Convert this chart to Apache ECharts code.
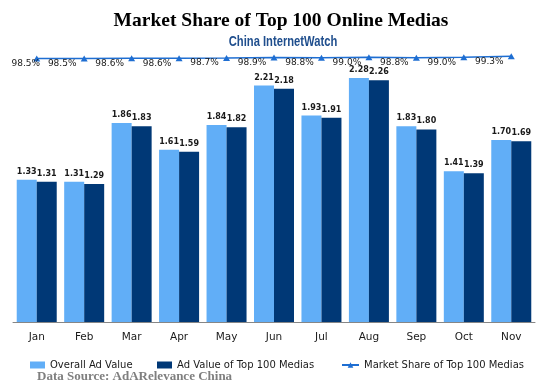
<!DOCTYPE html>
<html>
<head>
<meta charset="utf-8">
<script src="https://cdn.jsdelivr.net/npm/echarts@6/dist/echarts.min.js"></script>
<style>html,body{margin:0;padding:0;background:#fff;}#c{width:543px;height:387px;}</style>
</head>
<body>
<div id="c"></div>
<script>
var months = ['Jan','Feb','Mar','Apr','May','Jun','Jul','Aug','Sep','Oct','Nov'];
var overallAdValue = [1.33,1.31,1.86,1.61,1.84,2.21,1.93,2.28,1.83,1.41,1.70];
var top100AdValue = [1.31,1.29,1.83,1.59,1.82,2.18,1.91,2.26,1.80,1.39,1.69];
var top100Share = [98.5,98.5,98.6,98.6,98.7,98.9,98.8,99.0,98.8,99.0,99.3];

var chart = echarts.init(document.getElementById('c'));
var lightC = '#61AEF7', darkC = '#003876', lineC = '#1E6ED2';
var legendText = {fontFamily:'DejaVu Sans', fontSize:10, color:'#1a1a1a'};
var barLabel = {show:true, position:'top', distance:4, fontFamily:'DejaVu Sans', fontWeight:'bold', fontSize:8, color:'#1a1a1a', formatter:function(p){return p.value.toFixed(2);}};

chart.setOption({
  animation:false,
  backgroundColor:'#fff',
  title:[
    {text:'Market Share of Top 100 Online Medias', left:276, top:6, textAlign:'center',
     textStyle:{fontFamily:'Liberation Serif', fontWeight:'bold', fontSize:19.5, color:'#000'}},
    {text:'Data Source: AdARelevance China', left:32, top:365,
     textStyle:{fontFamily:'Liberation Serif', fontWeight:'bold', fontSize:13, color:'#7f7f7f'}}
  ],
  graphic:[
    {type:'text', x:283, y:42, scaleX:0.8, scaleY:1,
     style:{text:'China InternetWatch', font:'bold 14px "Liberation Sans"', fill:'#1F4E8D', align:'center', verticalAlign:'middle'}}
  ],
  legend:[
    {data:['Overall Ad Value'], left:25, top:355, itemWidth:15, itemHeight:7, itemGap:0, textStyle:legendText, icon:'rect'},
    {data:['Ad Value of Top 100 Medias'], left:152, top:355, itemWidth:15, itemHeight:7, itemGap:0, textStyle:legendText, icon:'rect'},
    {data:['Market Share of Top 100 Medias'], left:336, top:355, itemWidth:17, itemHeight:7, itemGap:0, textStyle:legendText}
  ],
  grid:{left:13, right:8, top:54.5, bottom:65},
  xAxis:{type:'category', data:months, boundaryGap:true,
    axisLine:{lineStyle:{color:'#868686', width:1}}, axisTick:{show:false},
    axisLabel:{margin:10, fontFamily:'DejaVu Sans', fontSize:10.5, color:'#1a1a1a'}},
  yAxis:[
    {type:'value', min:0, max:2.5, show:false, splitLine:{show:false}},
    {type:'value', min:0, max:100, show:false, splitLine:{show:false}}
  ],
  series:[
    {name:'Overall Ad Value', type:'bar', data:overallAdValue, barWidth:20, barGap:'0%',
     itemStyle:{color:lightC}, label:barLabel},
    {name:'Ad Value of Top 100 Medias', type:'bar', data:top100AdValue, barWidth:20, barGap:'0%',
     itemStyle:{color:darkC}, label:barLabel},
    {name:'Market Share of Top 100 Medias', type:'line', yAxisIndex:1, z:5,
     data:top100Share.map(function(v,i){return {value:v, label:{offset:i===0?[-11,5]:[-22,5]}};}),
     symbol:'triangle', symbolSize:[7,6],
     lineStyle:{color:lineC, width:1.5}, itemStyle:{color:lineC},
     label:{show:true, position:'inside', fontFamily:'DejaVu Sans', fontSize:9, color:'#1a1a1a',
       formatter:function(p){return p.value.toFixed(1)+'%';}}}
  ]
});
</script>
</body>
</html>
